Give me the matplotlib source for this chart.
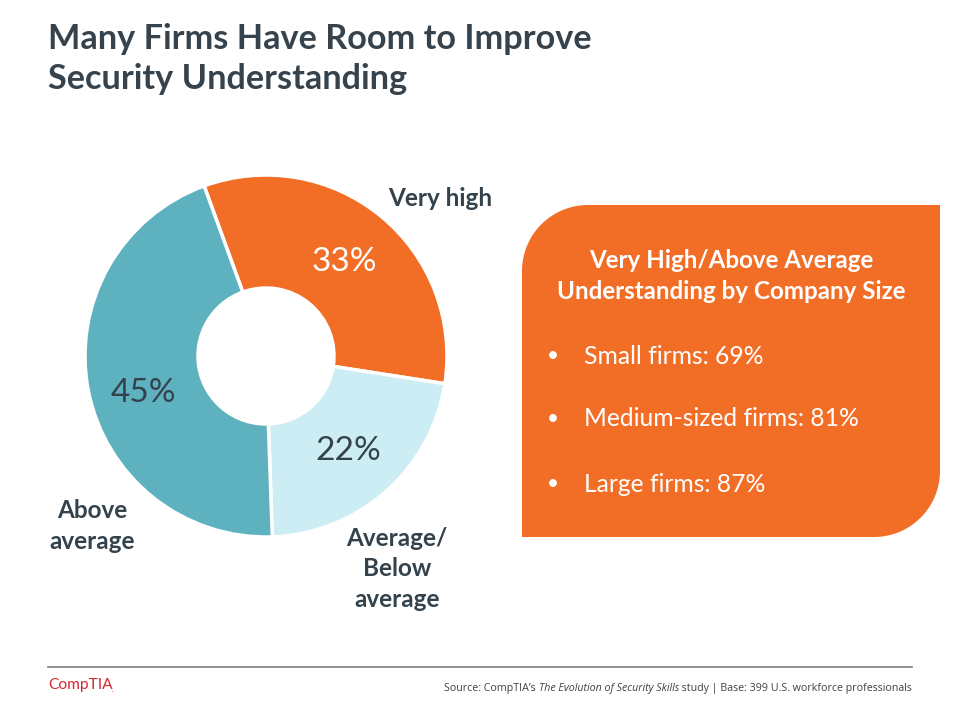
import numpy as np
import matplotlib
matplotlib.use("Agg")
import matplotlib.pyplot as plt
from matplotlib.patches import Polygon

# ---- data ----
segments = ["Very high", "Average/\nBelow\naverage", "Above\naverage"]
shares = [33, 22, 45]
seg_colors = ["#F26E26", "#CDEDF5", "#5EB1BF"]
pct_colors = ["white", "#34424C", "#34424C"]

box_title = "Very High/Above Average\nUnderstanding by Company Size"
size_labels = ["Small firms", "Medium-sized firms", "Large firms"]
size_values = [69, 81, 87]

title = "Many Firms Have Room to Improve\nSecurity Understanding"

FONT = "Lato"
DARK = "#34424C"
W, H = 960, 720

fig = plt.figure(figsize=(9.6, 7.2), dpi=100)
ax = fig.add_axes([0, 0, 1, 1])


def Y(y):
    return H - y


# donut
cx, cy, R, r_in = 266, 356, 181, 68
wedges, _ = ax.pie(shares, colors=seg_colors, startangle=110, counterclock=False,
                   center=(cx, Y(cy)), radius=R,
                   wedgeprops=dict(width=R - r_in, edgecolor="white", linewidth=2.5))

ax.set_xlim(0, W)
ax.set_ylim(0, H)
ax.set_aspect("equal")
ax.axis("off")

# percent labels
pct_pos = [(344, 262), (348, 451), (143, 393)]
for s, (px, py), c in zip(shares, pct_pos, pct_colors):
    ax.text(px, Y(py), f"{s}%", color=c, fontsize=24, family=FONT,
            ha="center", va="center")

# segment labels
seg_pos = [(440, 198), (397, 569), (92, 526)]
for lab, (px, py) in zip(segments, seg_pos):
    ax.text(px, Y(py), lab, color=DARK, fontsize=17.5, family=FONT, fontweight="bold",
            ha="center", va="center", linespacing=1.42, multialignment="center")

# title
ax.text(48, Y(59), title, color="#36434D", fontsize=24.7, family=FONT,
        fontweight="bold", ha="left", va="center", linespacing=1.33)

# orange box with rounded top-left and bottom-right corners
x0, x1, y0, y1, rc = 522, 940, 205, 537, 66
t = np.linspace(0, np.pi / 2, 30)
pts = []
for a in t:
    pts.append((x0 + rc - rc * np.cos(a), y0 + rc - rc * np.sin(a)))
pts.append((x1, y0))
pts.append((x1, y1 - rc))
for a in t:
    pts.append((x1 - rc + rc * np.cos(a), y1 - rc + rc * np.sin(a)))
pts.append((x0, y1))
pts = [(px, Y(py)) for px, py in pts]
ax.add_patch(Polygon(pts, closed=True, facecolor="#F26E26", edgecolor="none"))

ax.text(731, Y(276), box_title, color="white", fontsize=17.4, family=FONT,
        fontweight="bold", ha="center", va="center", linespacing=1.38)
for i, (lab, v) in enumerate(zip(size_labels, size_values)):
    yy = [356, 419, 484][i]
    ax.text(553, Y(yy), "\u2022", color="white", fontsize=15, family=FONT,
            ha="center", va="center")
    ax.text(584, Y(yy), f"{lab}: {v}%", color="white", fontsize=17.7, family=FONT,
            ha="left", va="center")

# footer
ax.plot([48, 912], [Y(667), Y(667)], color="#7F7F7F", linewidth=1.2)
ax.text(48, Y(685), "CompTIA", color="#D7282F", fontsize=11.2, family=FONT,
        ha="left", va="center")
ax.text(112, Y(689), ".", color="#D7282F", fontsize=5, family=FONT,
        ha="left", va="center")

fig.canvas.draw()
renderer = fig.canvas.get_renderer()
parts = [("Source: CompTIA\u2019s ", "normal"),
         ("The Evolution of Security Skills", "italic"),
         (" study | Base: 399 U.S. workforce professionals", "normal")]
xr = 912
inv = ax.transData.inverted()
for txt, style in reversed(parts):
    tt = ax.text(xr, Y(688), txt, color="#404040", fontsize=7.7, family="Open Sans",
                 style=style, ha="right", va="center")
    bb = tt.get_window_extent(renderer=renderer)
    xr = inv.transform((bb.x0, bb.y0))[0]

fig.savefig("out.png", dpi=100)
